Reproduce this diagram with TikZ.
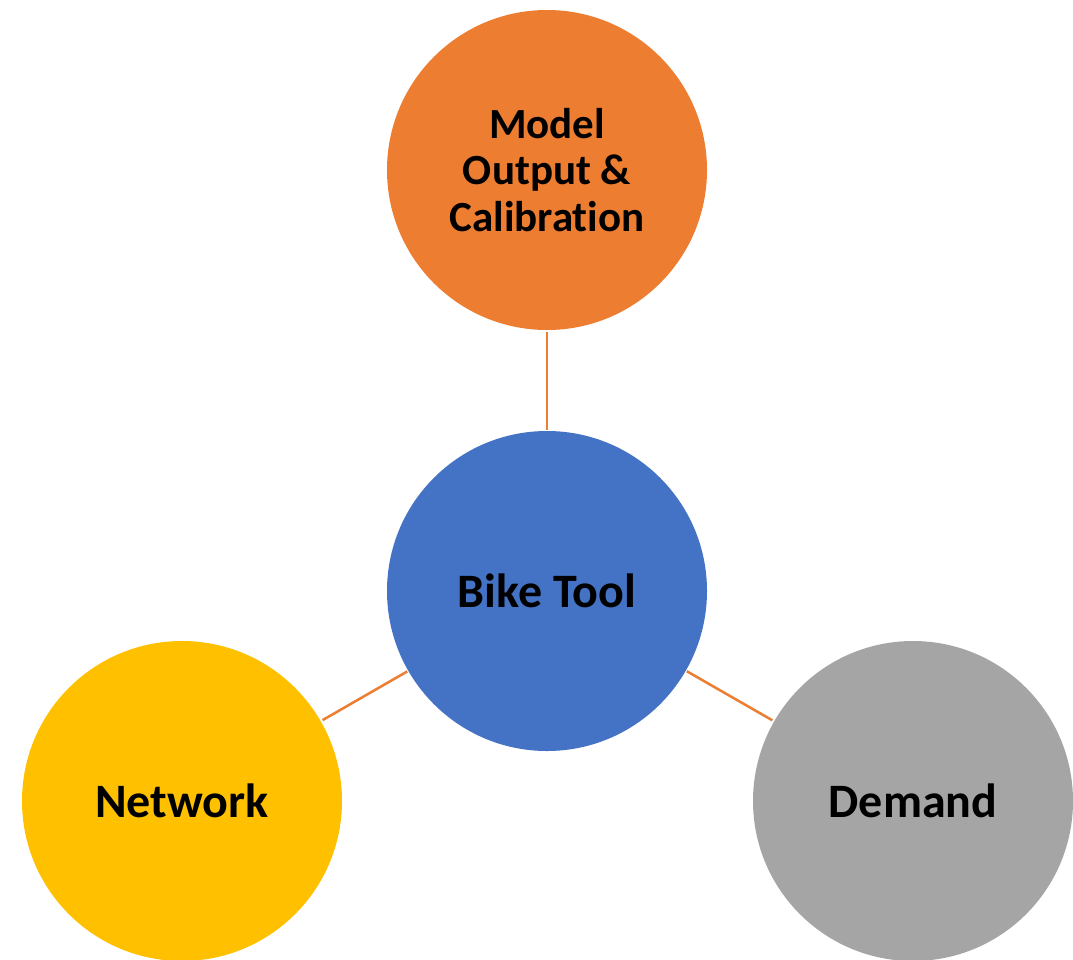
\documentclass[tikz,border=0pt]{standalone}
\usepackage{fontspec}
\setmainfont[RawFeature=-liga]{Carlito}
\usetikzlibrary{positioning}
\definecolor{topic orange}{HTML}{ED7D31}
\definecolor{hub blue}{HTML}{4472C4}
\definecolor{net yellow}{HTML}{FFC000}
\definecolor{dem gray}{HTML}{A5A5A5}
\begin{document}
\begin{tikzpicture}[x=1pt,y=-1pt,
	bubble/.style={circle, minimum size=320pt, inner sep=0pt, align=center, font=\fontsize{48}{50}\selectfont\bfseries},
	link/.style={line width=2.5pt, draw=topic orange, shorten <=1pt, shorten >=2pt}]

	%Frame
	\useasboundingbox (0,0) rectangle (1073,959);

	%Circles
	\node[bubble, fill=hub blue] (hub) at (547,591) {Bike Tool};
	\node[bubble, fill=topic orange, font=\fontsize{43}{46.5}\selectfont\bfseries] (model) at (547,170) {Model\\Output \&\\Calibration};
	\node[bubble, fill=net yellow] (network) at (182,801) {Network};
	\node[bubble, fill=dem gray] (demand) at (913,801) {Demand};

	%Links
	\draw[link] (hub) -- (model);
	\draw[link] (hub) -- (network);
	\draw[link] (hub) -- (demand);

\end{tikzpicture}
\end{document}
